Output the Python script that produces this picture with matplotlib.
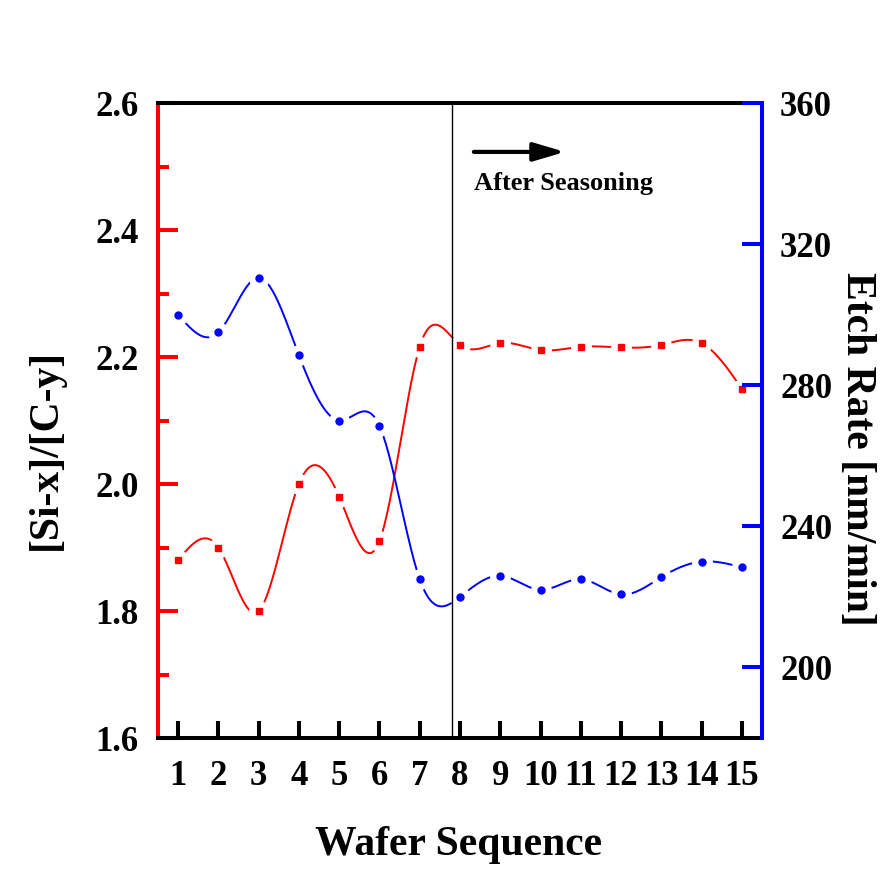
import numpy as np
import matplotlib
matplotlib.use("Agg")
import matplotlib.pyplot as plt

wafers = [1, 2, 3, 4, 5, 6, 7, 8, 9, 10, 11, 12, 13, 14, 15]
si_c_ratio = [1.88, 1.90, 1.80, 2.00, 1.98, 1.91, 2.216, 2.219, 2.222, 2.211,
              2.216, 2.215, 2.219, 2.222, 2.15]
etch_rate = [300, 295, 310.5, 288.5, 270, 268.5, 225, 220, 226, 222,
             225, 220.7, 225.6, 230, 228.4]

left_ticks = [1.6, 1.8, 2.0, 2.2, 2.4, 2.6]
right_ticks = [200, 240, 280, 320, 360]

plt.rcParams['font.family'] = ['Liberation Serif', 'DejaVu Serif']
plt.rcParams['font.weight'] = 'bold'


# natural cubic spline, used only for drawing the connecting curve
def spline_curve(x, y, num=400):
    x = np.asarray(x, float)
    y = np.asarray(y, float)
    n = len(x)
    h = np.diff(x)
    A = np.zeros((n, n))
    b = np.zeros(n)
    A[0, 0] = 1
    A[-1, -1] = 1
    for i in range(1, n - 1):
        A[i, i - 1] = h[i - 1]
        A[i, i] = 2 * (h[i - 1] + h[i])
        A[i, i + 1] = h[i]
        b[i] = 6 * ((y[i + 1] - y[i]) / h[i] - (y[i] - y[i - 1]) / h[i - 1])
    M = np.linalg.solve(A, b)
    xs = np.linspace(x[0], x[-1], num)
    idx = np.clip(np.searchsorted(x, xs) - 1, 0, n - 2)
    x0, x1 = x[idx], x[idx + 1]
    hh = x1 - x0
    ys = (M[idx] * (x1 - xs) ** 3 / (6 * hh) + M[idx + 1] * (xs - x0) ** 3 / (6 * hh)
          + (y[idx] / hh - M[idx] * hh / 6) * (x1 - xs)
          + (y[idx + 1] / hh - M[idx + 1] * hh / 6) * (xs - x0))
    return xs, ys


fig = plt.figure(figsize=(8.85, 8.85), dpi=100)
ax = fig.add_axes([0.1785, 0.1661, 0.6825, 0.7175])
ax2 = ax.twinx()

# red series on the left axis (white halo gives the gap around each symbol)
xs, ys = spline_curve(wafers, si_c_ratio)
ax.plot(xs, ys, color='red', lw=1.4, zorder=2)
ax.plot(wafers, si_c_ratio, 'o', ms=15, mfc='white', mec='none', zorder=3)
ax.plot(wafers, si_c_ratio, 's', ms=4.5, color='red', zorder=4)

# blue series on the right axis
xs, ys = spline_curve(wafers, etch_rate)
ax2.plot(xs, ys, color='blue', lw=1.4, zorder=2)
ax2.plot(wafers, etch_rate, 'o', ms=15, mfc='white', mec='none', zorder=3)
ax2.plot(wafers, etch_rate, 'o', ms=5, color='blue', zorder=4)

ax.set_xlim(0.5, 15.5)
ax.set_ylim(1.6, 2.6)
ax.set_xticks(wafers)
ax.set_yticks(left_ticks)
ax.set_yticks(np.arange(1.7, 2.6, 0.2), minor=True)
ax.set_yticklabels(['%.1f' % v for v in left_ticks])
ax2.set_yticks(right_ticks)
ax2.set_yticks(np.arange(180, 361, 40) + 20, minor=True)
ax2.set_ylim(180, 360)

sw = 2.9
for s in ['top', 'bottom']:
    ax.spines[s].set_linewidth(sw)
    ax.spines[s].set_color('black')
ax.spines['left'].set_linewidth(sw)
ax.spines['left'].set_color('red')
ax.spines['right'].set_visible(False)
for s in ['top', 'bottom', 'left']:
    ax2.spines[s].set_visible(False)
ax2.spines['right'].set_linewidth(sw)
ax2.spines['right'].set_color('blue')

ax.tick_params(axis='x', direction='in', length=12.5, width=sw, color='black',
               labelsize=25, pad=16, top=False)
ax.tick_params(axis='y', which='major', direction='in', length=14.5, width=sw,
               color='red', labelcolor='black', labelsize=25, pad=14)
ax.tick_params(axis='y', which='minor', direction='in', length=8, width=sw, color='red')
ax2.tick_params(axis='y', which='major', direction='in', length=14.5, width=sw,
                color='blue', labelcolor='black', labelsize=25, pad=13)
ax2.tick_params(axis='y', which='minor', direction='in', length=8, width=sw, color='blue')
for lbl in ax.get_xticklabels() + ax.get_yticklabels() + ax2.get_yticklabels():
    lbl.set_fontweight('bold')

# seasoning marker, arrow and note
ax2.axvline(7.8, color='black', lw=1, zorder=5)
ax2.annotate('', xy=(0.674, 0.923), xytext=(0.523, 0.923), xycoords='axes fraction',
             arrowprops=dict(arrowstyle='-|>,head_length=0.95,head_width=0.28',
                             lw=3, color='black', mutation_scale=20,
                             shrinkA=0, shrinkB=0), zorder=6)
ax2.text(0.523, 0.863, 'After Seasoning', transform=ax2.transAxes, fontsize=19,
         fontweight='bold', va='baseline', ha='left', zorder=6)

fig.text(0.5186, 0.0339, 'Wafer Sequence', fontsize=30, fontweight='bold',
         ha='center', va='baseline')
fig.text(0.052, 0.4927, '[Si-x]/[C-y]', fontsize=30, fontweight='bold',
         rotation=90, ha='center', va='center')
fig.text(0.968, 0.4927, 'Etch Rate [nm/min]', fontsize=30, fontweight='bold',
         rotation=-90, ha='center', va='center')

fig.savefig('out.png', dpi=100, facecolor='white')
